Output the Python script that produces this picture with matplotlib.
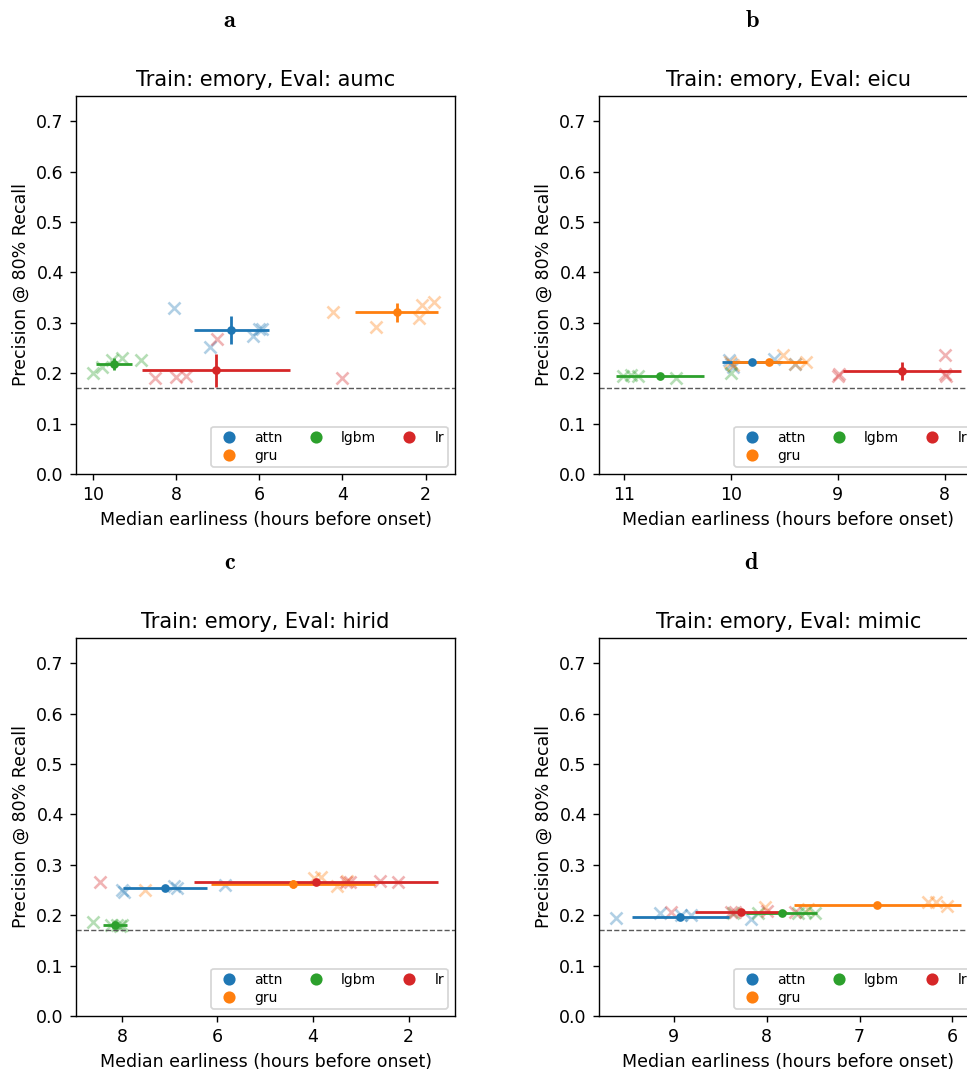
import matplotlib
matplotlib.use('Agg')
import matplotlib.pyplot as plt
from matplotlib.lines import Line2D

plt.rcParams['mathtext.fontset'] = 'cm'

models = ['attn', 'gru', 'lgbm', 'lr']
colors = ['tab:blue', 'tab:orange', 'tab:green', 'tab:red']
evals = ['aumc', 'eicu', 'hirid', 'mimic']
letters = ['a', 'b', 'c', 'd']
baseline = 0.17

# per-seed runs (hours before onset, precision @ 80% recall), order = models
aumc_hours = [[8.06, 7.18, 6.14, 6.01, 5.94], [4.23, 3.20, 2.16, 2.10, 1.79],
              [9.99, 9.79, 9.55, 9.30, 8.84], [8.50, 8.00, 7.76, 7.01, 4.00]]
aumc_prec = [[0.330, 0.252, 0.274, 0.287, 0.287], [0.322, 0.292, 0.309, 0.335, 0.342],
             [0.200, 0.212, 0.227, 0.231, 0.227], [0.190, 0.193, 0.194, 0.267, 0.191]]
aumc_mean = [(6.67, 0.285), (2.70, 0.321), (9.49, 0.219), (7.04, 0.206)]
aumc_err = [(0.90, 0.028), (0.99, 0.019), (0.44, 0.012), (1.78, 0.033)]

eicu_hours = [[10.02, 10.00, 9.98, 9.60, 9.40], [10.01, 9.98, 9.51, 9.40, 9.30],
              [11.01, 10.93, 10.87, 10.51, 10.00], [9.00, 8.99, 8.00, 8.00, 7.99]]
eicu_prec = [[0.226, 0.219, 0.213, 0.229, 0.218], [0.222, 0.216, 0.236, 0.219, 0.223],
             [0.195, 0.196, 0.195, 0.191, 0.200], [0.195, 0.198, 0.237, 0.198, 0.195]]
eicu_mean = [(9.80, 0.223), (9.64, 0.223), (10.66, 0.195), (8.40, 0.204)]
eicu_err = [(0.28, 0.006), (0.35, 0.005), (0.41, 0.003), (0.55, 0.018)]

hirid_hours = [[7.99, 7.95, 6.91, 6.84, 5.85], [7.51, 3.98, 3.84, 3.49, 3.29],
               [8.60, 8.22, 8.10, 8.05, 7.99], [8.45, 3.31, 3.22, 2.60, 2.22]]
hirid_prec = [[0.250, 0.247, 0.257, 0.254, 0.260], [0.250, 0.273, 0.275, 0.257, 0.268],
              [0.187, 0.180, 0.180, 0.178, 0.180], [0.266, 0.266, 0.266, 0.268, 0.265]]
hirid_mean = [(7.10, 0.253), (4.42, 0.262), (8.15, 0.181), (3.94, 0.266)]
hirid_err = [(0.88, 0.004), (1.72, 0.008), (0.25, 0.003), (2.55, 0.002)]

mimic_hours = [[9.62, 9.15, 8.92, 8.81, 8.17], [8.02, 7.55, 6.26, 6.18, 6.06],
               [8.36, 8.09, 7.66, 7.59, 7.48], [9.03, 8.38, 8.34, 8.00, 7.70]]
mimic_prec = [[0.194, 0.205, 0.200, 0.200, 0.192], [0.217, 0.212, 0.227, 0.227, 0.218],
              [0.204, 0.204, 0.204, 0.206, 0.204], [0.207, 0.206, 0.206, 0.209, 0.207]]
mimic_mean = [(8.93, 0.197), (6.81, 0.220), (7.84, 0.205), (8.28, 0.206)]
mimic_err = [(0.52, 0.003), (0.90, 0.003), (0.38, 0.001), (0.49, 0.002)]

panels = [
    (aumc_hours, aumc_prec, aumc_mean, aumc_err),
    (eicu_hours, eicu_prec, eicu_mean, eicu_err),
    (hirid_hours, hirid_prec, hirid_mean, hirid_err),
    (mimic_hours, mimic_prec, mimic_mean, mimic_err),
]

W, H, DPI = 967, 1072, 125
fig = plt.figure(figsize=(W / DPI, H / DPI), dpi=DPI)

# axes boxes in pixels: left, top (width/height shared)
boxes = [(76, 96), (599, 96), (76, 638), (599, 638)]
ax_w, ax_h = 379, 378
letter_pos = [(230, 20), (752, 20), (230, 562), (752, 562)]

for i, (hours, prec, means, errs) in enumerate(panels):
    left, top = boxes[i]
    ax = fig.add_axes([left / W, 1 - (top + ax_h) / H, ax_w / W, ax_h / H])
    for m in range(len(models)):
        ax.scatter(hours[m], prec[m], marker='x', s=48, lw=1.5,
                   color=colors[m], alpha=0.35)
        ax.errorbar(means[m][0], means[m][1], xerr=errs[m][0], yerr=errs[m][1],
                    fmt='o', ms=4, color=colors[m], elinewidth=1.6)
    ax.axhline(baseline, color='0.35', ls='--', lw=0.8)
    ax.set_ylim(0, 0.75)
    ax.invert_xaxis()
    ax.set_title('Train: emory, Eval: %s' % evals[i], fontsize=12)
    ax.set_xlabel('Median earliness (hours before onset)')
    ax.set_ylabel('Precision @ 80% Recall')
    handles = [Line2D([], [], marker='o', ls='', color=c) for c in colors]
    ax.legend(handles, models, loc='lower right', ncol=3, fontsize=8,
              labelspacing=0.3, borderpad=0.3, columnspacing=1.4,
              borderaxespad=0.5)
    lx, ly = letter_pos[i]
    fig.text(lx / W, 1 - ly / H, r'$\mathbf{%s}$' % letters[i], fontsize=14,
             ha='center', va='center')

fig.savefig('out.png', dpi=DPI)
